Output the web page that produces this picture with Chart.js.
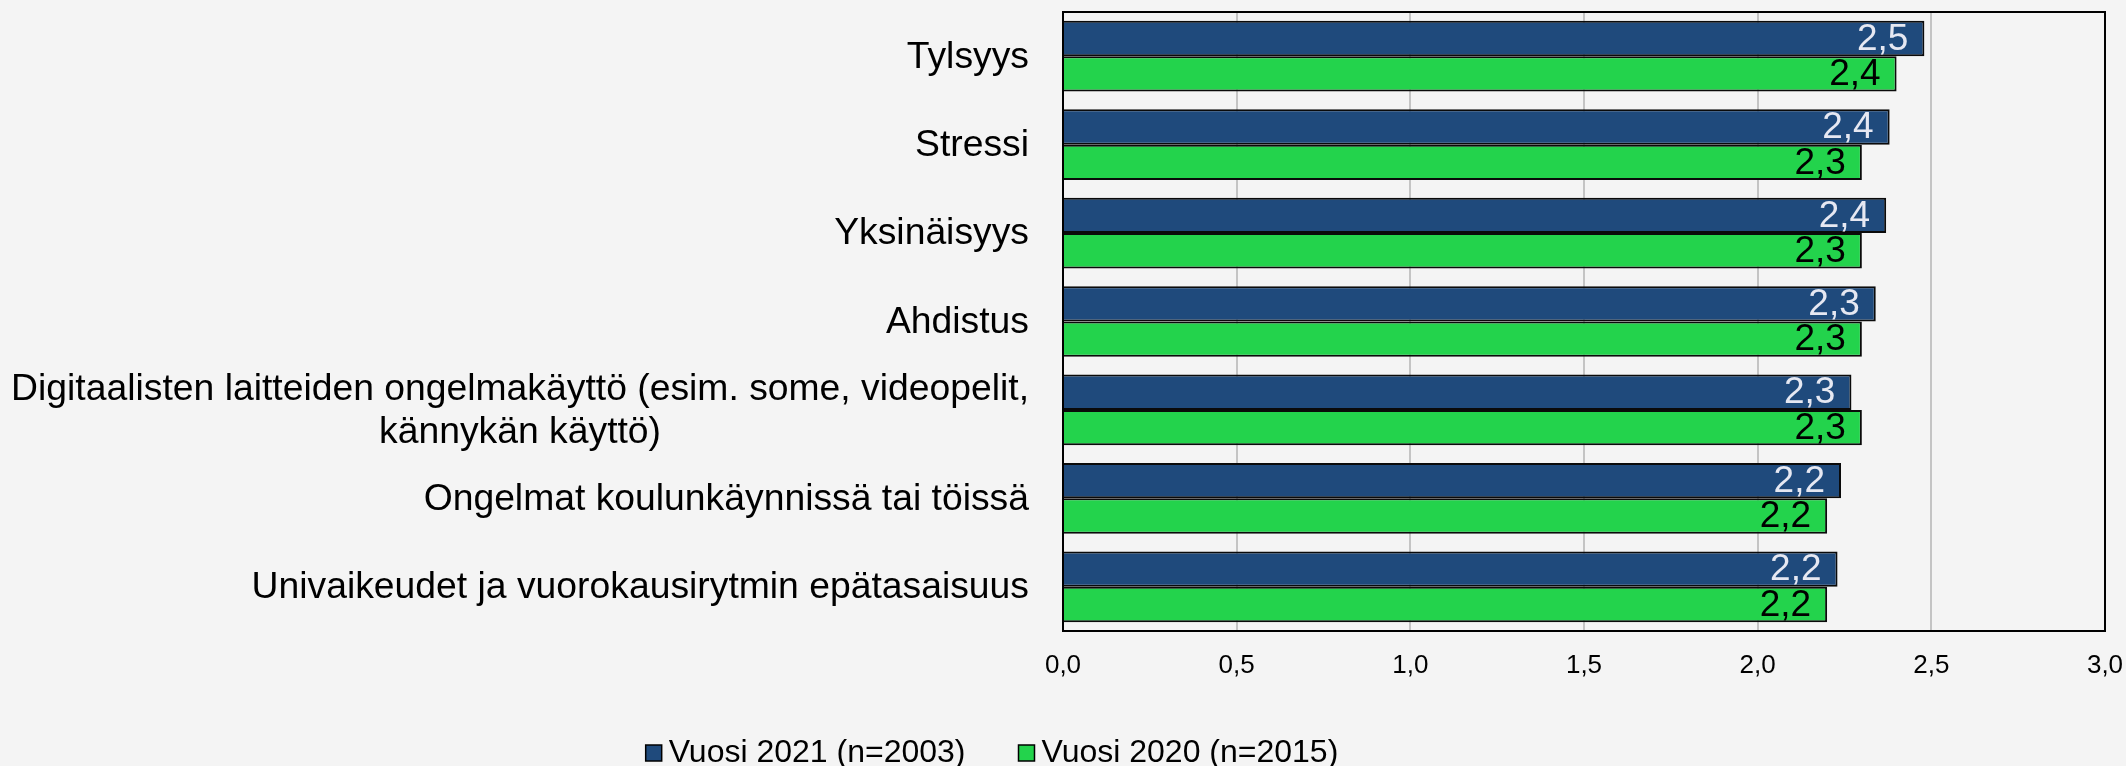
<!DOCTYPE html>
<html>
<head>
<meta charset="utf-8">
<script src="https://cdn.jsdelivr.net/npm/chart.js@4/dist/chart.umd.min.js"></script>
<style>
  html, body { margin: 0; padding: 0; background: #f4f4f4; }
  #wrap { width: 2126px; height: 766px; position: relative; }
</style>
</head>
<body>
<div id="wrap"><canvas id="c" width="2126" height="766"></canvas></div>
<script>
const categories = [
  "Tylsyys",
  "Stressi",
  "Yksinäisyys",
  "Ahdistus",
  ["Digitaalisten laitteiden ongelmakäyttö (esim. some, videopelit,", "kännykän käyttö)"],
  "Ongelmat koulunkäynnissä tai töissä",
  "Univaikeudet ja vuorokausirytmin epätasaisuus"
];
const seriesNames = ["Vuosi 2021 (n=2003)", "Vuosi 2020 (n=2015)"];
const values2021 = [2.48, 2.38, 2.37, 2.34, 2.27, 2.24, 2.23];
const values2020 = [2.40, 2.30, 2.30, 2.30, 2.30, 2.20, 2.20];
const xTicks = [0, 0.5, 1.0, 1.5, 2.0, 2.5, 3.0];

const FONT = "'Liberation Sans', Arial, sans-serif";
const navy = "#1f4a7c";
const green = "#23d34c";
const fmt = v => v.toFixed(1).replace(".", ",");

const bgPlugin = {
  id: "bg",
  beforeDraw(chart) {
    const ctx = chart.ctx;
    ctx.save();
    ctx.fillStyle = "#f4f4f4";
    ctx.fillRect(0, 0, chart.width, chart.height);
    ctx.restore();
  }
};

const framePlugin = {
  id: "frame",
  afterDatasetsDraw(chart) {
    const {ctx, chartArea: a} = chart;
    ctx.save();
    ctx.strokeStyle = "#000";
    ctx.lineWidth = 2;
    ctx.strokeRect(a.left, a.top, a.right - a.left, a.bottom - a.top);
    ctx.restore();
  }
};

const valueLabels = {
  id: "valueLabels",
  afterDatasetsDraw(chart) {
    const ctx = chart.ctx;
    ctx.save();
    ctx.font = "37px " + FONT;
    ctx.textAlign = "right";
    ctx.textBaseline = "middle";
    chart.data.datasets.forEach((ds, di) => {
      const meta = chart.getDatasetMeta(di);
      ctx.fillStyle = di === 0 ? "#e6e8f2" : "#000";
      meta.data.forEach((el, i) => {
        ctx.fillText(fmt(ds.data[i]), el.x - 16, el.y + 1);
      });
    });
    ctx.restore();
  }
};

const catLabels = {
  id: "catLabels",
  afterDraw(chart) {
    const ctx = chart.ctx;
    const ys = chart.scales.y;
    const lh = 43;
    ctx.save();
    ctx.font = "37.3px " + FONT;
    ctx.fillStyle = "#000";
    ctx.textAlign = "center";
    ctx.textBaseline = "middle";
    categories.forEach((lab, i) => {
      const lines = Array.isArray(lab) ? lab : [lab];
      const widest = Math.max(...lines.map(l => ctx.measureText(l).width));
      const right = chart.chartArea.left - 34;
      const cx = right - widest / 2;
      const cy = ys.getPixelForTick(i);
      lines.forEach((l, j) => {
        ctx.fillText(l, cx, cy + (j - (lines.length - 1) / 2) * lh + 1);
      });
    });
    ctx.restore();
  }
};

const legendPlugin = {
  id: "customLegend",
  afterDraw(chart) {
    const ctx = chart.ctx;
    ctx.save();
    ctx.font = "32px " + FONT;
    ctx.textBaseline = "middle";
    ctx.textAlign = "left";
    const box = 16, gapBoxText = 7, gapItems = 53;
    const widths = chart.data.datasets.map(d => ctx.measureText(d.label).width);
    const total = widths.reduce((s, w) => s + box + gapBoxText + w, 0) + gapItems * (widths.length - 1);
    let x = 992 - total / 2;
    const cy = 753;
    chart.data.datasets.forEach((d, i) => {
      ctx.fillStyle = d.backgroundColor;
      ctx.fillRect(x, cy - box / 2, box, box);
      ctx.strokeStyle = "#000";
      ctx.lineWidth = 1.5;
      ctx.strokeRect(x, cy - box / 2, box, box);
      ctx.fillStyle = "#000";
      ctx.fillText(d.label, x + box + gapBoxText, cy);
      x += box + gapBoxText + widths[i] + gapItems;
    });
    ctx.restore();
  }
};

new Chart(document.getElementById("c"), {
  type: "bar",
  data: {
    labels: categories,
    datasets: [
      { label: seriesNames[0], data: values2021, backgroundColor: navy, borderColor: "#0a0a0a", borderWidth: 2 },
      { label: seriesNames[1], data: values2020, backgroundColor: green, borderColor: "#0a0a0a", borderWidth: 2 }
    ]
  },
  options: {
    indexAxis: "y",
    responsive: false,
    animation: false,
    devicePixelRatio: 1,
    layout: { padding: { top: 12, right: 21, left: 0, bottom: 0 } },
    datasets: { bar: { categoryPercentage: 0.8, barPercentage: 1.0 } },
    plugins: { legend: { display: false }, tooltip: { enabled: false } },
    scales: {
      x: {
        min: 0, max: 3,
        afterBuildTicks(scale) { scale.ticks = xTicks.map(v => ({ value: v })); },
        afterFit(scale) { scale.height = 135; scale.paddingRight = 0; scale.paddingLeft = 0; },
        grid: { color: "#c4c4c4", lineWidth: 2, drawTicks: false },
        border: { display: true, color: "#000", width: 2 },
        ticks: {
          padding: 19,
          color: "#000",
          font: { family: FONT, size: 26 },
          callback: v => fmt(v)
        }
      },
      y: {
        afterFit(scale) { scale.width = 1063; },
        grid: { display: false, drawTicks: false },
        border: { display: true, color: "#000", width: 2 },
        ticks: { display: false }
      }
    }
  },
  plugins: [bgPlugin, valueLabels, framePlugin, catLabels, legendPlugin]
});
</script>
</body>
</html>
